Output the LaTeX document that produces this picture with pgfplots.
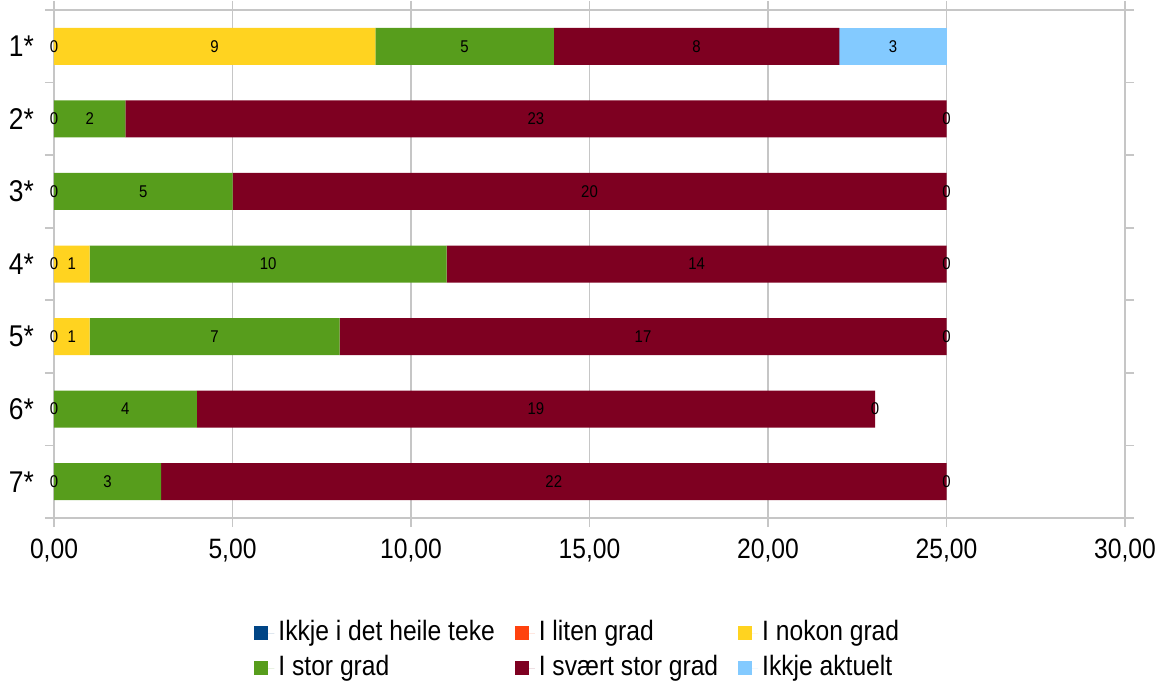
\documentclass[border=0pt]{standalone}
\usepackage{pgfplots}
\pgfplotsset{compat=1.18}
\usepackage{pgfplotstable}
\usepackage{fontspec}
\setmainfont{Liberation Sans}[FakeStretch=0.88]
\definecolor{cA}{HTML}{004586}
\definecolor{cB}{HTML}{FF420E}
\definecolor{cC}{HTML}{FFD320}
\definecolor{cD}{HTML}{579D1C}
\definecolor{cE}{HTML}{7E0021}
\definecolor{cF}{HTML}{83CAFF}
\definecolor{gridc}{HTML}{C6C6C6}

\pgfplotstableread{
cat a b c d e f
1 0 0 9 5 8 3
2 0 0 0 2 23 0
3 0 0 0 5 20 0
4 0 0 1 10 14 0
5 0 0 1 7 17 0
6 0 0 0 4 19 0
7 0 0 0 3 22 0
}\datatable

\pgfplotstableread{
x y lab
0 1 0
4.5 1 9
11.5 1 5
18 1 8
23.5 1 3
0 2 0
1 2 2
13.5 2 23
25 2 0
0 3 0
2.5 3 5
15 3 20
25 3 0
0 4 0
0.5 4 1
6 4 10
18 4 14
25 4 0
0 5 0
0.5 5 1
4.5 5 7
16.5 5 17
25 5 0
0 6 0
2 6 4
13.5 6 19
23 6 0
0 7 0
1.5 7 3
14 7 22
25 7 0
}\labeltable

\begin{document}
\begin{tikzpicture}
\useasboundingbox (0,0) rectangle (580.5pt,342pt);
\pgfplotsset{
  common/.style={at={(27pt,83pt)}, anchor=south west, scale only axis,
    width=535.5pt, height=254pt, xmin=0, xmax=30, ymin=0.5, ymax=7.5, y dir=reverse}
}
\begin{axis}[common,
  xbar stacked, bar width=18.5pt,
  axis line style={gridc, line width=0.8pt},
  tick style={gridc, line width=0.8pt},
  tick align=outside, major tick length=4.5pt,
  xtick={0,5,...,30},
  xmajorgrids, grid style={gridc, line width=0.8pt},
  ytick={0.5,1.5,...,7.5},
  yticklabels={1*,2*,3*,4*,5*,6*,7*,{}},
  yticklabel style={yshift=-18.15pt, xshift=-2pt, font=\fontsize{15}{18}\selectfont},
  /pgf/number format/assume math mode=true,
  xticklabel style={yshift=-2.5pt, /pgf/number format/.cd, fixed, fixed zerofill, precision=2, use comma},
  tick label style={font=\fontsize{14}{16.8}\selectfont},
  legend cell align=left,
  legend image code/.code={\draw[#1,draw=none] (0pt,-3.5pt) rectangle (7pt,3.5pt); \path (0pt,0pt) -- (10pt,0pt);},
  legend style={at={(0.490,-0.261)}, anchor=center, draw=none, legend columns=3,
    font=\fontsize{14}{16.8}\selectfont,
    nodes={inner sep=2pt, text height=10.5pt, text depth=3pt, anchor=west},
    /tikz/every even column/.append style={column sep=8pt}},
]
\addplot[fill=cA, draw=none] table[x=a, y=cat] {\datatable};
\addplot[fill=cB, draw=none] table[x=b, y=cat] {\datatable};
\addplot[fill=cC, draw=none] table[x=c, y=cat] {\datatable};
\addplot[fill=cD, draw=none] table[x=d, y=cat] {\datatable};
\addplot[fill=cE, draw=none] table[x=e, y=cat] {\datatable};
\addplot[fill=cF, draw=none] table[x=f, y=cat] {\datatable};
\legend{Ikkje i det heile teke, I liten grad, I nokon grad, I stor grad, I svært stor grad, Ikkje aktuelt}
\end{axis}
\begin{axis}[common, hide axis]
\addplot[only marks, mark=none, nodes near coords, point meta=explicit symbolic,
  every node near coord/.append style={anchor=center, black, font=\fontsize{8.5}{10}\selectfont}]
  table[x=x, y=y, meta=lab] {\labeltable};
\end{axis}
\end{tikzpicture}
\end{document}
